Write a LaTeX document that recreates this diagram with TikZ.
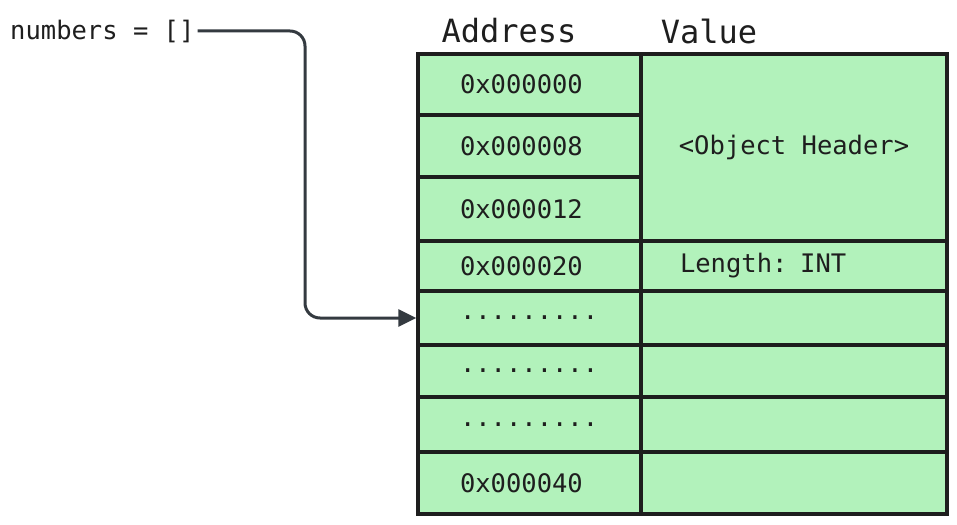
\documentclass[tikz,border=0pt]{standalone}
\usepackage{fontspec}
\newfontfamily\codefont{DejaVu Sans Mono}
\usetikzlibrary{positioning,arrows.meta}
\definecolor{cellgreen}{HTML}{B2F2BB}
\definecolor{ink}{HTML}{1E1E1E}
\definecolor{wire}{HTML}{343A40}
\newcommand{\addrdots}{.........}
\tikzset{
  cell/.style={draw=ink, line width=3.5pt, fill=cellgreen, rectangle, inner ysep=0pt, text=ink, font=\fontsize{25.5}{30}\codefont},
  addr/.style={cell, minimum width=223pt, text width=139pt, inner xsep=42pt, align=left},
  val/.style={cell, minimum width=306pt, inner xsep=0pt},
  head/.style={text=ink, font=\fontsize{32}{38}\codefont}
}

\begin{document}
\begin{tikzpicture}
    [x=1pt,y=-1pt]
  \useasboundingbox (0,0) rectangle (957,524);

  \node[text=ink, inner xsep=3pt, anchor=west, font=\fontsize{25.5}{30}\codefont] (var) at (7,31) {numbers = []};
  \node[head] (addrhead) at (509,31) {Address};
  \node[head] (valhead) at (709,31) {Value};

  \foreach \n/\y/\h/\t in {a1/84.5/61/0x000000, a2/146/62/0x000008, a3/209/64/0x000012, a4/266/50/0x000020, a5/318/54/\addrdots, a6/371/52/\addrdots, a7/424.5/55/\addrdots, a8/483/62/0x000040}
    \node[addr, minimum height=\h pt] (\n) at (529.5,\y) {\t};

  \node[val, minimum height=187pt] (hdr) at (794,147.5) {<Object Header>};
  \node[val, minimum height=50pt, text width=228pt, inner xsep=39pt, align=left] (len) at (794,266) {Length: INT};
  \foreach \n/\y/\h in {v5/318/54, v6/371/52, v7/424.5/55, v8/483/62}
    \node[val, minimum height=\h pt] (\n) at (794,\y) {};

  \coordinate (bend) at (305,200);
  \draw[wire, line width=3pt, rounded corners=15pt, -{Triangle[length=18pt,width=17pt]}] (var.east) -| (bend) |- (a5.west);
\end{tikzpicture}
\end{document}
